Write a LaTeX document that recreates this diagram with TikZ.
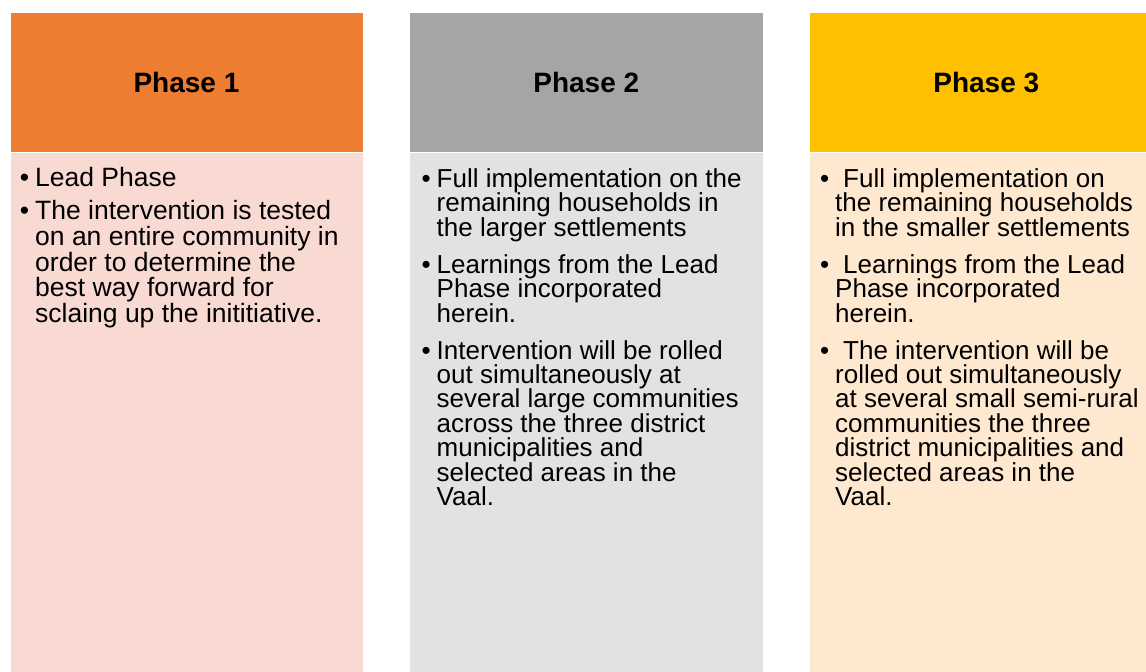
\documentclass[tikz,border=0pt]{standalone}
\usepackage{fontspec}
\setmainfont{Liberation Sans}
\definecolor{hOne}{HTML}{ED7D31}
\definecolor{bOne}{HTML}{F8DAD3}
\definecolor{hTwo}{HTML}{A5A5A5}
\definecolor{bTwo}{HTML}{E2E2E2}
\definecolor{hThree}{HTML}{FFC000}
\definecolor{bThree}{HTML}{FFE8D0}
\tikzset{
  hdrbox/.style={draw=white, line width=0.5pt, anchor=north west, minimum width=353.4pt, minimum height=140pt, inner sep=0pt, font=\fontsize{28}{32}\selectfont\bfseries, text=black},
  bodybox/.style={draw=white, line width=0.5pt, anchor=north west, minimum width=353.4pt, minimum height=520pt, inner sep=0pt},
  para/.style={anchor=base west, inner sep=0pt, align=left, font=\fontsize{26}{24.4}\selectfont, text=black},
  paraA/.style={para, font=\fontsize{26.5}{25.8}\selectfont}
}
\newcommand{\bul}{\llap{\textbullet\hspace{6pt}}}
\begin{document}
\begin{tikzpicture}[x=1pt,y=-1pt]
\useasboundingbox (0,0) rectangle (1146,672);
\clip (0,0) rectangle (1146,672);
% column boxes
\node[bodybox, fill=bOne] (b1) at (9.5,152) {};
\node[bodybox, fill=bTwo] (b2) at (409.3,152) {};
\node[bodybox, fill=bThree] (b3) at (809.3,152) {};
\node[hdrbox, fill=hOne] (h1) at (9.5,12) {Phase 1};
\node[hdrbox, fill=hTwo] (h2) at (409.3,12) {Phase 2};
\node[hdrbox, fill=hThree] (h3) at (809.3,12) {Phase 3};
% column 1 (base anchor = baseline of last line)
\node[paraA] (p11) at (35,186.7) {\bul Lead Phase};
\node[paraA] (p12) at (35,322.7) {\bul The intervention is tested\\on an entire community in\\order to determine the\\best way forward for\\sclaing up the inititiative.};
% column 2
\node[para] (p21) at (436.5,236.1) {\bul Full implementation on the\\remaining households in\\the larger settlements};
\node[para] (p22) at (436.5,322.1) {\bul Learnings from the Lead\\Phase incorporated\\herein.};
\node[para] (p23) at (436.5,505.4) {\bul Intervention will be rolled\\out simultaneously at\\several large communities\\across the three district\\municipalities and\\selected areas in the\\Vaal.};
% column 3
\node[para] (p31) at (835,236.1) {\bul\hspace{8pt}Full implementation on\\the remaining households\\in the smaller settlements};
\node[para] (p32) at (835,322.1) {\bul\hspace{8pt}Learnings from the Lead\\Phase incorporated\\herein.};
\node[para] (p33) at (835,505.4) {\bul\hspace{8pt}The intervention will be\\rolled out simultaneously\\at several small semi-rural\\communities the three\\district municipalities and\\selected areas in the\\Vaal.};
\end{tikzpicture}
\end{document}
